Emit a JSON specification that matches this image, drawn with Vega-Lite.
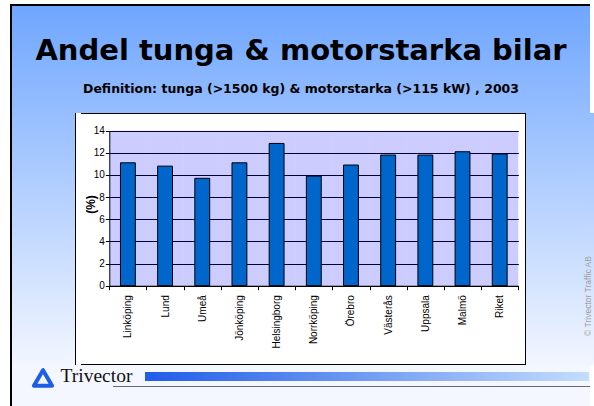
{
"$schema": "https://vega.github.io/schema/vega-lite/v6.json",
"background": "#ffffff",
"padding": {"left": 10, "top": 4, "right": 2, "bottom": 0},
"config": {"view": {"stroke": null}, "concat": {"spacing": 0}},
"spacing": 0,
"hconcat": [
 {"width": 2, "height": 402, "data": {"values": [{}]}, "mark": {"type": "rect", "fill": "#000000"}, "encoding": {}},
 {"spacing": 0, "vconcat": [
   {"width": 578, "height": 2, "data": {"values": [{}]}, "mark": {"type": "rect", "fill": "#000000"}, "encoding": {}},
   {"width": 578, "height": 62, "layer": [
     {"data": {"values": [{}]}, "mark": {"type": "rect", "fill": {"x1": 0, "y1": 0, "x2": 0, "y2": 1, "gradient": "linear", "stops": [{"offset": 0, "color": "#6fa6ff"}, {"offset": 1, "color": "#86b4ff"}]}}, "encoding": {}},
     {"data": {"values": [{"label": "Andel tunga & motorstarka bilar"}]}, "mark": {"type": "text", "font": "DejaVu Sans", "fontSize": 29, "fontWeight": "bold", "baseline": "top", "align": "center", "fill": "#000000"}, "encoding": {"text": {"field": "label", "type": "nominal"}}}
   ]},
   {"width": 578, "height": 42, "layer": [
     {"data": {"values": [{}]}, "mark": {"type": "rect", "fill": {"x1": 0, "y1": 0, "x2": 0, "y2": 1, "gradient": "linear", "stops": [{"offset": 0, "color": "#86b4ff"}, {"offset": 1, "color": "#95bdff"}]}}, "encoding": {}},
     {"data": {"values": [{"label": "Definition: tunga (>1500 kg) & motorstarka (>115 kW) , 2003"}]}, "mark": {"type": "text", "font": "DejaVu Sans", "fontSize": 12.5, "fontWeight": "bold", "baseline": "middle", "align": "center", "fill": "#000000"}, "encoding": {"text": {"field": "label", "type": "nominal"}}}
   ]},
   {"width": 578, "height": 3, "data": {"values": [{}]}, "mark": {"type": "rect", "fill": "#95bdff"}, "encoding": {}},
   {"spacing": 0, "hconcat": [
     {"width": 63, "height": 252, "data": {"values": [{}]}, "mark": {"type": "rect", "fill": {"x1": 0, "y1": 0, "x2": 0, "y2": 1, "gradient": "linear", "stops": [{"offset": 0, "color": "#96beff"}, {"offset": 1, "color": "#f2f6ff"}]}}, "encoding": {}},
     {"width": 1, "height": 252, "data": {"values": [{}]}, "mark": {"type": "rect", "fill": "#000000"}, "encoding": {}},
     {"spacing": 0, "vconcat": [
       {"width": 444, "height": 1, "data": {"values": [{}]}, "mark": {"type": "rect", "fill": "#000000"}, "encoding": {}},
       {
         "width": 444, "height": 250,
         "view": {"fill": "#ffffff", "stroke": null},
         "data": {"values": [
           {"city": "Linköping", "value": 11.1},
           {"city": "Lund", "value": 10.8},
           {"city": "Umeå", "value": 9.7},
           {"city": "Jönköping", "value": 11.1},
           {"city": "Helsingborg", "value": 12.85},
           {"city": "Norrköping", "value": 9.9},
           {"city": "Örebro", "value": 10.9},
           {"city": "Västerås", "value": 11.8},
           {"city": "Uppsala", "value": 11.8},
           {"city": "Malmö", "value": 12.1},
           {"city": "Riket", "value": 11.9}
         ]},
         "encoding": {
           "x": {"field": "city", "type": "nominal", "sort": null,
             "scale": {"range": [28.3, 437.3], "paddingInner": 0, "paddingOuter": 0},
             "axis": {"orient": "bottom", "offset": -78.3, "title": null, "tickBand": "extent", "labelAngle": -90, "labelAlign": "right", "labelBaseline": "middle", "labelPadding": 5, "labelFont": "Liberation Sans", "labelFontSize": 10, "labelColor": "#000000", "tickSize": 4, "tickColor": "#000000", "domainColor": "#000000", "grid": false, "labelLimit": 0, "labelOverlap": false}}
         },
         "layer": [
           {"mark": {"type": "rect", "fill": "#0000ff", "fillOpacity": 0.2},
            "encoding": {"y": {"datum": 0, "type": "quantitative",
              "scale": {"domain": [0, 14], "range": [171.7, 16.7], "nice": false, "zero": false},
              "axis": {"orient": "left", "offset": -28.3, "values": [0, 2, 4, 6, 8, 10, 12, 14], "grid": true, "gridColor": "#000000", "gridOpacity": 1, "gridWidth": 1, "domainColor": "#000000", "tickColor": "#000000", "tickSize": 4, "labelFont": "Liberation Sans", "labelFontSize": 10, "labelColor": "#000000", "labelPadding": 1, "title": "(%)", "titleFont": "Liberation Sans", "titleFontSize": 12, "titleFontWeight": "bold", "titleColor": "#000000", "titleX": -12, "titleY": 90, "titleAngle": 270, "titleAlign": "center", "titleBaseline": "bottom"}},
              "y2": {"datum": 14}}},
           {"mark": {"type": "bar", "fill": "#0066cc", "stroke": "#000000", "strokeWidth": 1, "width": {"band": 0.4}},
            "encoding": {"y": {"field": "value", "type": "quantitative",
              "scale": {"domain": [0, 14], "range": [171.7, 16.7], "nice": false, "zero": false},
              "axis": {"orient": "left", "offset": -28.3, "values": [0, 2, 4, 6, 8, 10, 12, 14], "grid": true, "gridColor": "#000000", "gridOpacity": 1, "gridWidth": 1, "domainColor": "#000000", "tickColor": "#000000", "tickSize": 4, "labelFont": "Liberation Sans", "labelFontSize": 10, "labelColor": "#000000", "labelPadding": 1, "title": "(%)", "titleFont": "Liberation Sans", "titleFontSize": 12, "titleFontWeight": "bold", "titleColor": "#000000", "titleX": -12, "titleY": 90, "titleAngle": 270, "titleAlign": "center", "titleBaseline": "bottom"}}}}
         ]
       },
       {"width": 444, "height": 1, "data": {"values": [{}]}, "mark": {"type": "rect", "fill": "#000000"}, "encoding": {}}
     ]},
     {"width": 1, "height": 252, "data": {"values": [{}]}, "mark": {"type": "rect", "fill": "#000000"}, "encoding": {}},
     {"width": 55, "height": 252, "data": {"values": [{}]}, "mark": {"type": "rect", "fill": {"x1": 0, "y1": 0, "x2": 0, "y2": 1, "gradient": "linear", "stops": [{"offset": 0, "color": "#96beff"}, {"offset": 1, "color": "#f2f6ff"}]}}, "encoding": {}},
     {"spacing": 0, "vconcat": [
       {"width": 14, "height": 114, "data": {"values": [{}]}, "mark": {"type": "rect", "fill": {"x1": 0, "y1": 0, "x2": 0, "y2": 1, "gradient": "linear", "stops": [{"offset": 0, "color": "#96beff"}, {"offset": 1, "color": "#c0d7ff"}]}}, "encoding": {}},
       {"width": 14, "height": 138, "layer": [
         {"data": {"values": [{}]}, "mark": {"type": "rect", "fill": {"x1": 0, "y1": 0, "x2": 0, "y2": 1, "gradient": "linear", "stops": [{"offset": 0, "color": "#c0d7ff"}, {"offset": 1, "color": "#f2f6ff"}]}}, "encoding": {}},
         {"data": {"values": [{"label": "© Trivector Traffic AB"}]}, "mark": {"type": "text", "font": "Liberation Sans", "fontSize": 8.5, "angle": 270, "baseline": "middle", "align": "center", "fill": "#a0a0a0"}, "encoding": {"text": {"field": "label", "type": "nominal"}}}
       ]}
     ]}
   ]},
   {"spacing": 0, "hconcat": [
     {"width": 17, "height": 41, "data": {"values": [{}]}, "mark": {"type": "rect", "fill": "#f4f7ff"}, "encoding": {}},
     {"spacing": 0, "vconcat": [
       {"width": 28, "height": 26, "layer": [
         {"data": {"values": [{}]}, "mark": {"type": "rect", "fill": "#f4f7ff"}, "encoding": {}},
         {"data": {"values": [{}]}, "mark": {"type": "point", "shape": "triangle-up", "filled": false, "stroke": "#1c5ee6", "strokeWidth": 4, "strokeJoin": "round", "size": 330, "opacity": 1}, "encoding": {}}
       ]},
       {"width": 28, "height": 15, "data": {"values": [{}]}, "mark": {"type": "rect", "fill": "#f4f7ff"}, "encoding": {}}
     ]},
     {"spacing": 0, "vconcat": [
       {"width": 79, "height": 21, "layer": [
         {"data": {"values": [{}]}, "mark": {"type": "rect", "fill": "#f4f7ff"}, "encoding": {}},
         {"data": {"values": [{"label": "Trivector"}]}, "mark": {"type": "text", "font": "Liberation Serif", "fontSize": 19.5, "baseline": "middle", "align": "center", "fill": "#111111"}, "encoding": {"text": {"field": "label", "type": "nominal"}}}
       ]},
       {"spacing": 0, "hconcat": [
         {"width": 56, "height": 1, "data": {"values": [{}]}, "mark": {"type": "rect", "fill": "#f4f7ff"}, "encoding": {}},
         {"width": 23, "height": 1, "data": {"values": [{}]}, "mark": {"type": "rect", "fill": "#6b6b6b"}, "encoding": {}}
       ]},
       {"width": 79, "height": 19, "data": {"values": [{}]}, "mark": {"type": "rect", "fill": "#f4f7ff"}, "encoding": {}}
     ]},
     {"spacing": 0, "vconcat": [
       {"width": 454, "height": 7, "data": {"values": [{}]}, "mark": {"type": "rect", "fill": "#f3f7ff"}, "encoding": {}},
       {"spacing": 0, "hconcat": [
         {"width": 9, "height": 9, "data": {"values": [{}]}, "mark": {"type": "rect", "fill": "#f4f7ff"}, "encoding": {}},
         {"width": 444, "height": 9, "data": {"values": [{}]}, "mark": {"type": "rect", "fill": {"x1": 0, "y1": 0, "x2": 1, "y2": 0, "gradient": "linear", "stops": [{"offset": 0, "color": "#1f5ce9"}, {"offset": 1, "color": "#c4ddfd"}]}}, "encoding": {}},
         {"width": 1, "height": 9, "data": {"values": [{}]}, "mark": {"type": "rect", "fill": "#f4f7ff"}, "encoding": {}}
       ]},
       {"width": 454, "height": 5, "data": {"values": [{}]}, "mark": {"type": "rect", "fill": "#f4f7ff"}, "encoding": {}},
       {"width": 454, "height": 1, "data": {"values": [{}]}, "mark": {"type": "rect", "fill": "#6b6b6b"}, "encoding": {}},
       {"width": 454, "height": 19, "data": {"values": [{}]}, "mark": {"type": "rect", "fill": "#f4f7ff"}, "encoding": {}}
     ]}
   ]}
 ]},
 {"width": 2, "height": 402, "data": {"values": [{}]}, "mark": {"type": "rect", "fill": "#000000"}, "encoding": {}}
]
}
